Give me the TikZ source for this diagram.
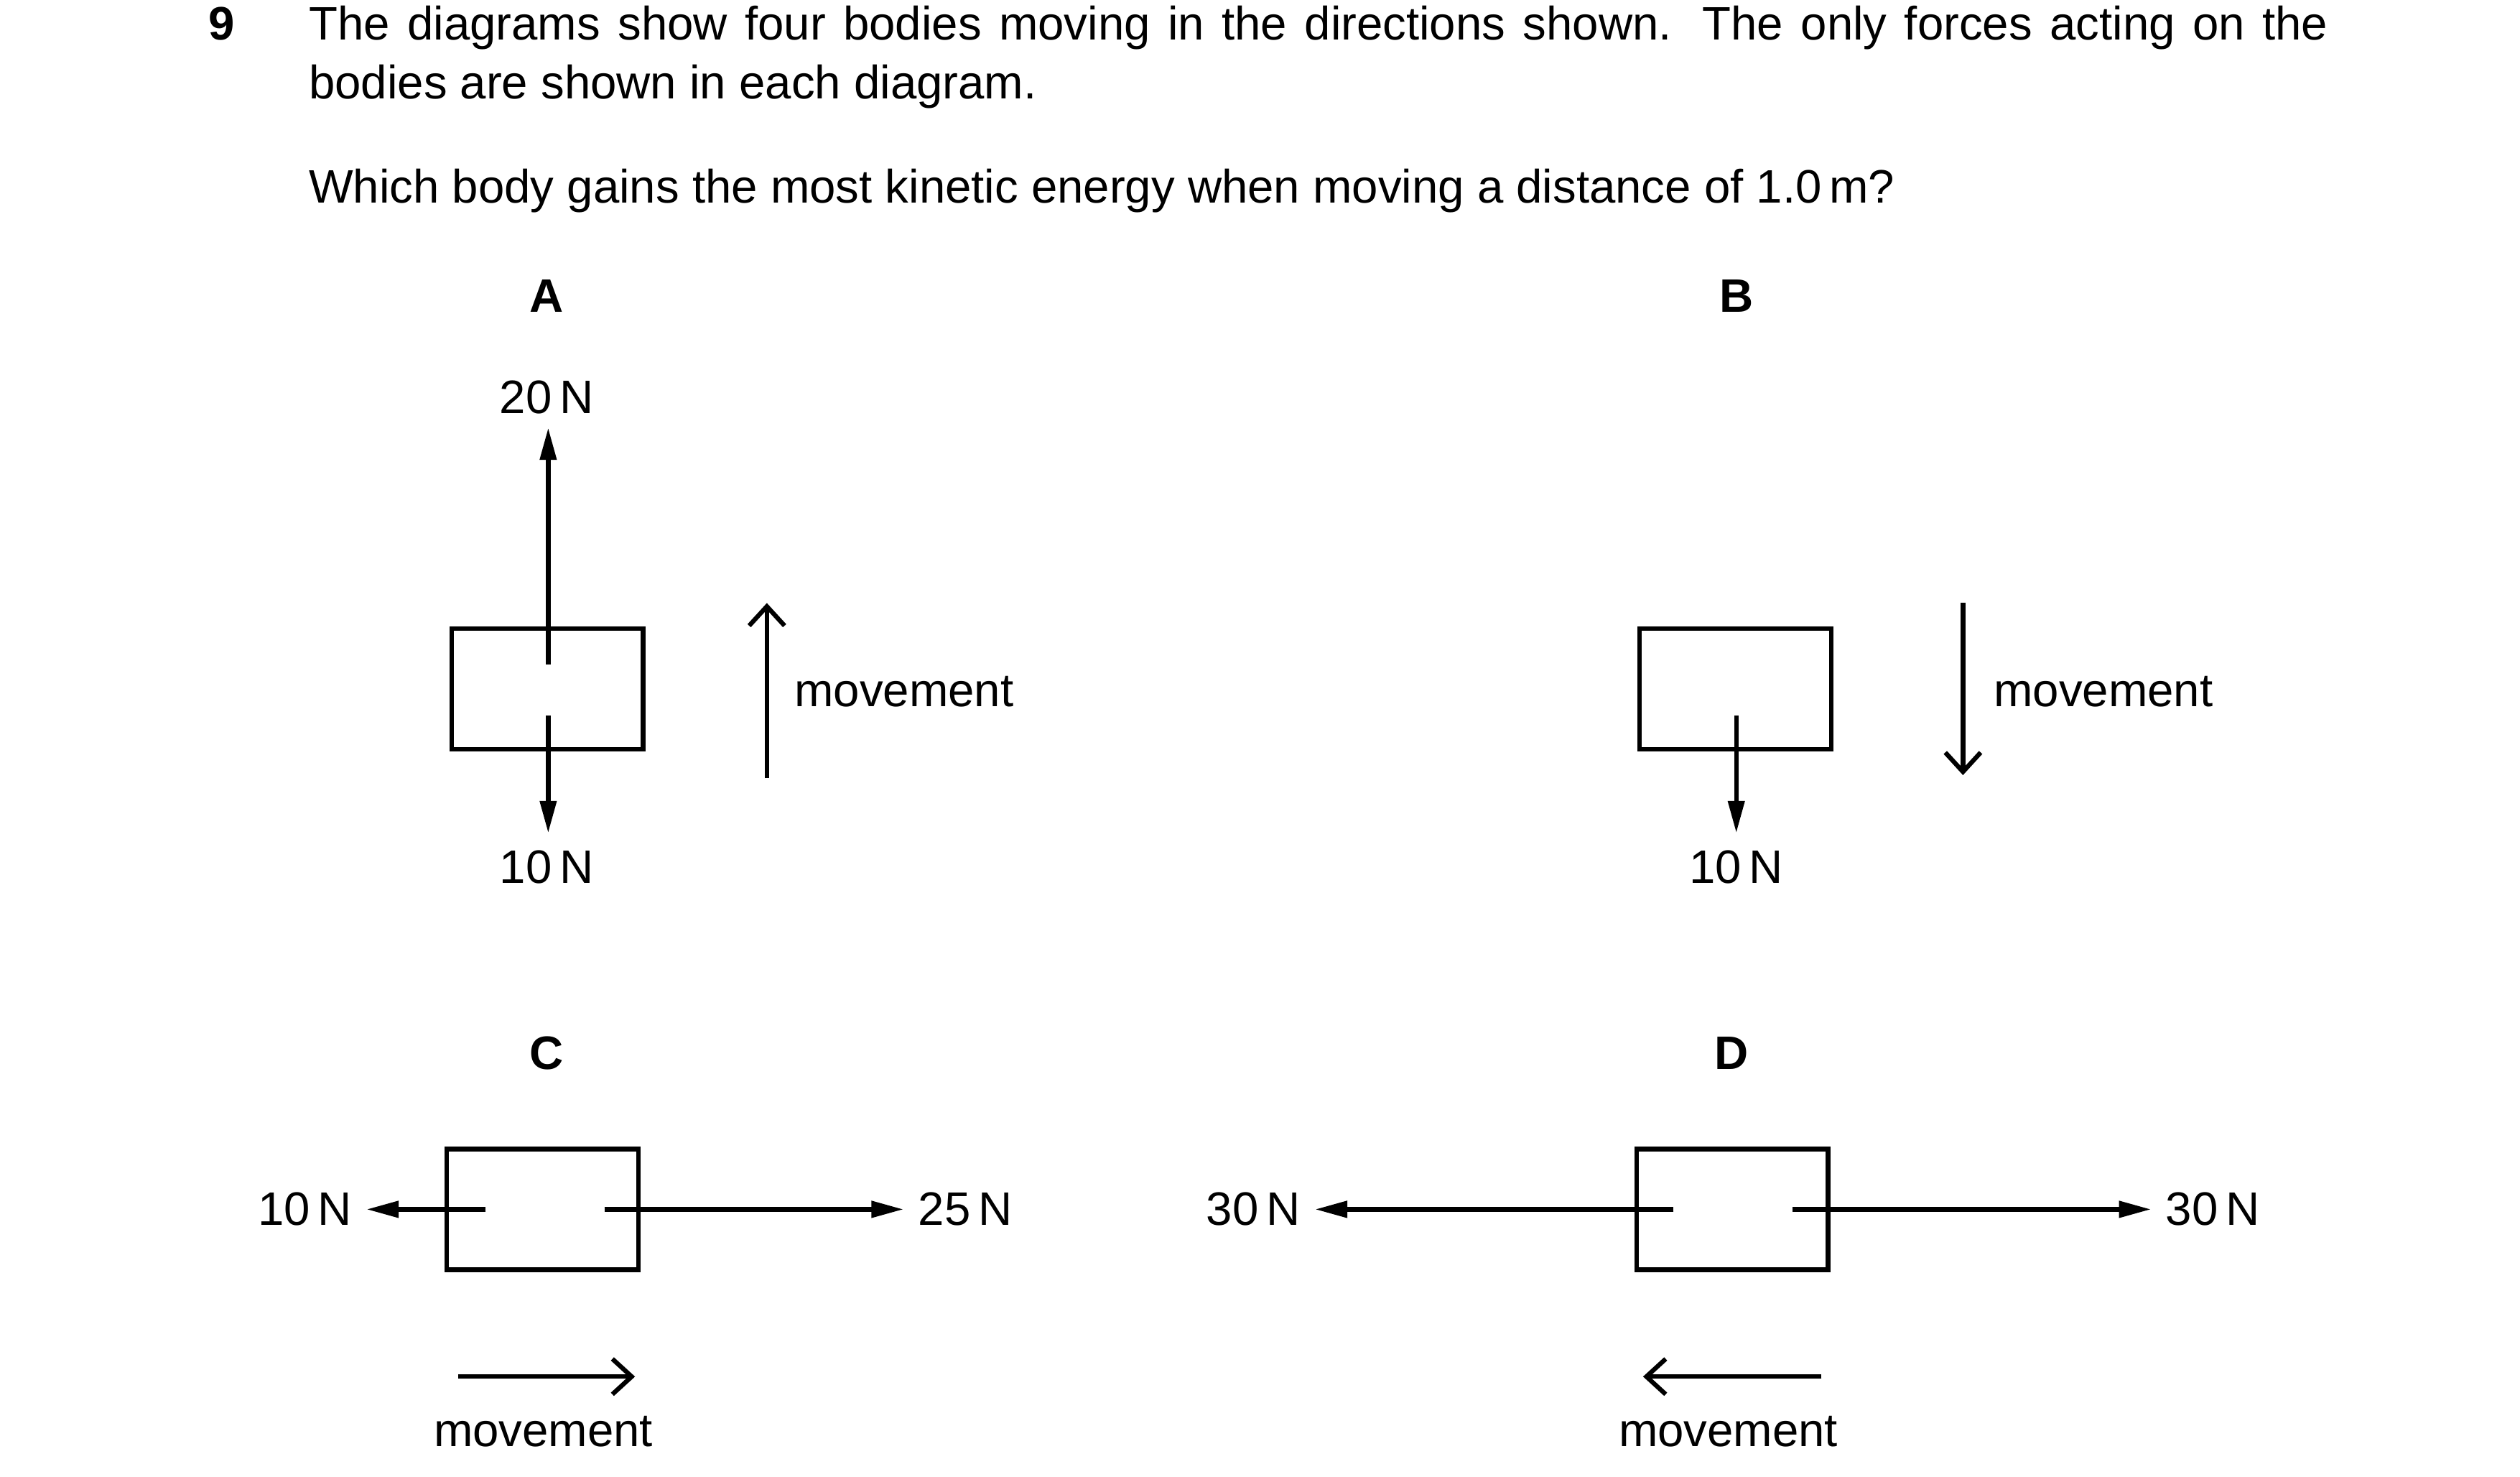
\documentclass[tikz,border=0pt]{standalone}
\usepackage{fontspec}
\setmainfont{Liberation Sans}
\usetikzlibrary{arrows.meta,positioning}
\tikzset{
  body/.style={draw,line width=0.8pt,minimum width=1.19cm,minimum height=0.75cm,inner sep=0pt},
  force/.style={line width=0.8pt,-{Triangle[length=0.2cm,width=0.1cm]}},
  move/.style={line width=0.8pt,-{Straight Barb[length=0.12cm,width=0.22cm]}},
  lab/.style={font=\fontsize{8.3}{10}\selectfont\bfseries},
  txt/.style={font=\fontsize{8.3}{10.3}\selectfont,inner sep=1pt}
}
\begin{document}
\begin{tikzpicture}[x=0.01cm,y=-0.01cm]
  \useasboundingbox (0,0) rectangle (1567.5,918.3);
  % question
  \node[lab,anchor=base] (num) at (138,25) {9};
  \node[txt,anchor=base west,text width=12.55cm,align=justify] (q) at (188,25)
    {The diagrams show four bodies moving in the directions shown. The only forces acting on the bodies are shown in each diagram.};
  \node[txt,anchor=base west] (q2) at (188,126) {Which body gains the most kinetic energy when moving a distance of 1.0\,m?};

  % A
  \node[lab] (la) at (340,184) {A};
  \node[body] (ba) at (340.5,428.5) {};
  \coordinate (a1) at (341,413);
  \coordinate (a2) at (341,266);
  \coordinate (a3) at (341,445);
  \coordinate (a4) at (341,518);
  \draw[force] (a1) -- (a2);
  \draw[force] (a3) -- (a4);
  \node[txt] (fa1) at (340,247) {20\,N};
  \node[txt] (fa2) at (340,539) {10\,N};
  \coordinate (ma1) at (477,484);
  \coordinate (ma2) at (477,375);
  \draw[move] (ma1) -- (ma2);
  \node[txt,anchor=west] (ta) at (490,430) {movement};

  % B
  \node[lab] (lb) at (1080,184) {B};
  \node[body] (bb) at (1079.5,428.5) {};
  \coordinate (b1) at (1080,445);
  \coordinate (b2) at (1080,518);
  \draw[force] (b1) -- (b2);
  \node[txt] (fb1) at (1080,539) {10\,N};
  \coordinate (mb1) at (1221,375);
  \coordinate (mb2) at (1221,482);
  \draw[move] (mb1) -- (mb2);
  \node[txt,anchor=west] (tb) at (1236,430) {movement};

  % C
  \node[lab] (lc) at (340,655) {C};
  \node[body] (bc) at (337.5,752) {};
  \coordinate (c1) at (302,752);
  \coordinate (c2) at (228,752);
  \coordinate (c3) at (376,752);
  \coordinate (c4) at (562,752);
  \draw[force] (c1) -- (c2);
  \draw[force] (c3) -- (c4);
  \node[txt,anchor=east] (fc1) at (223,752) {10\,N};
  \node[txt,anchor=west] (fc2) at (567,752) {25\,N};
  \coordinate (mc1) at (285,856);
  \coordinate (mc2) at (395,856);
  \draw[move] (mc1) -- (mc2);
  \node[txt] (tc) at (338,890) {movement};

  % D
  \node[lab] (ld) at (1077,655) {D};
  \node[body] (bd) at (1077.5,752) {};
  \coordinate (d1) at (1041,752);
  \coordinate (d2) at (818,752);
  \coordinate (d3) at (1115,752);
  \coordinate (d4) at (1338,752);
  \draw[force] (d1) -- (d2);
  \draw[force] (d3) -- (d4);
  \node[txt,anchor=east] (fd1) at (813,752) {30\,N};
  \node[txt,anchor=west] (fd2) at (1343,752) {30\,N};
  \coordinate (md1) at (1133,856);
  \coordinate (md2) at (1022,856);
  \draw[move] (md1) -- (md2);
  \node[txt] (td) at (1075,890) {movement};
\end{tikzpicture}
\end{document}
